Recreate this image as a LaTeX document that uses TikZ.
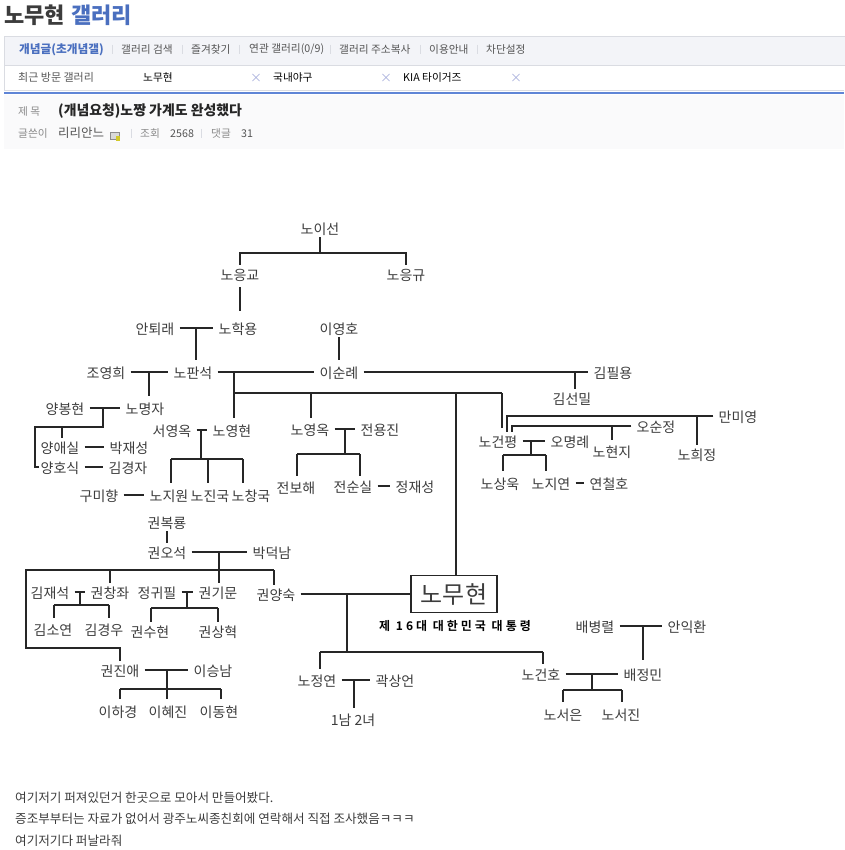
\documentclass[tikz,border=0pt]{standalone}
\usepackage{fontspec}
\setmainfont{Noto Sans CJK KR}
\newfontfamily\kr[BoldFont={Noto Sans CJK KR Bold}]{Noto Sans CJK KR}
\newfontfamily\krwide[LetterSpace=25,BoldFont={Noto Sans CJK KR Bold}]{Noto Sans CJK KR}
\definecolor{namegray}{HTML}{3C3C3C}
\definecolor{wiregray}{HTML}{262626}
\definecolor{gallblue}{HTML}{4A6FBF}
\definecolor{barline}{HTML}{DADCE2}
\definecolor{barfill}{HTML}{F3F4F8}
\definecolor{topline}{HTML}{5F85D6}
\definecolor{softgray}{HTML}{8A8A8A}
\definecolor{tabgray}{HTML}{555555}
\definecolor{panelgray}{HTML}{FAFAFB}
\definecolor{closemark}{HTML}{A9B0DC}
\begin{document}
\begin{tikzpicture}[x=1pt,y=-1pt,
	person/.style={font=\fontsize{14}{14}\selectfont,text=namegray,inner xsep=5pt,inner ysep=0pt,text height=13.4pt,text depth=1pt,minimum height=18pt},
	wire/.style={line width=1.4pt,color=wiregray},
	tab/.style={font=\fontsize{10.7}{11}\selectfont,text=tabgray,inner sep=0pt,anchor=west},
	closex/.style={font=\fontsize{12}{12}\selectfont,text=closemark,inner sep=0pt},
	sep/.style={line width=0.5pt,color=barline},
	note/.style={font=\fontsize{12.6}{13}\selectfont,text=namegray,inner sep=0pt,anchor=west}]
	\useasboundingbox (0,0) rectangle (844,850);

	\fill[panelgray] (4,95) rectangle (844,149);
	\filldraw[fill=barfill,draw=barline] (4,36) rectangle (850,65);
	\draw[barline] (4,65) -- (4,90) -- (844,90);
	\draw[topline,line width=1.2pt] (4,93) -- (844,93);

	\node [inner sep=0pt,anchor=west,font=\fontsize{22}{22}\bfseries,text=namegray] (gallname) at (4,15) {노무현};
	\node [inner sep=0pt,anchor=west,font=\fontsize{22}{22}\bfseries,text=gallblue] (galltitle) at (71,15) {갤러리};

	\node [tab,font=\fontsize{11.7}{12}\bfseries,text=gallblue] (tab1) at (19,49.5) {개념글(초개념갤)};
	\node [tab] (tab2) at (121,49.5) {갤러리 검색};
	\node [tab] (tab3) at (191,49.5) {즐겨찾기};
	\node [tab] (tab4) at (249,49.5) {연관 갤러리(0/9)};
	\node [tab] (tab5) at (339,49.5) {갤러리 주소복사};
	\node [tab] (tab6) at (429,49.5) {이용안내};
	\node [tab] (tab7) at (486,49.5) {차단설정};
	\draw[sep] (112,45) -- (112,54) (182,45) -- (182,54) (239,45) -- (239,54) (330,45) -- (330,54) (420,45) -- (420,54) (477,45) -- (477,54);

	\node [tab,font=\fontsize{11}{11}\selectfont] (recent) at (18,77.5) {최근 방문 갤러리};
	\node [tab,text=black] (rec1) at (143,77.5) {노무현};
	\node [closex] (x1) at (256,78) {×};
	\node [tab,text=black] (rec2) at (273,77.5) {국내야구};
	\node [closex] (x2) at (386,78) {×};
	\node [tab,text=black] (rec3) at (403,77.5) {KIA 타이거즈};
	\node [closex] (x3) at (516,78) {×};

	\node [tab,text=softgray] (subjlabel) at (18,111) {제 목};
	\node [tab,font=\fontsize{13.9}{14}\bfseries,text=black!85] (subject) at (58,111) {(개념요청)노짱 가계도 완성했다};
	\node [tab,text=softgray] (writerlabel) at (18,133.5) {글쓴이};
	\node [tab,font=\fontsize{12.5}{13}\selectfont] (writer) at (58,133) {리리안느};
	\filldraw[fill=black!15,draw=black!45] (110,132) rectangle (119,139);
	\fill[yellow!80!black] (116,136) rectangle (120,141);
	\draw[sep] (131,129) -- (131,138) (201,129) -- (201,138);
	\node [tab,text=softgray] (hitlabel) at (140,133.5) {조회};
	\node [tab] (hits) at (170,133.5) {2568};
	\node [tab,text=softgray] (replylabel) at (211,133.5) {댓글};
	\node [tab] (replies) at (241,133.5) {31};

	\node [person] (noiseon) at (320,228) {노이선};
	\node [person] (noeunggyo) at (240,274) {노응교};
	\node [person] (noeunggyu) at (406,274) {노응규};
	\node [person] (antoerae) at (155,328) {안퇴래};
	\node [person] (hakyong) at (238,328) {노학용};
	\node [person] (yeongho) at (339,328) {이영호};
	\node [person] (choyeonghui) at (106,372) {조영희};
	\node [person] (panseok) at (193,372) {노판석};
	\node [person] (sunrye) at (339,372) {이순례};
	\node [person] (pilyong) at (613,372) {김필용};
	\node [person] (seonmil) at (572,398) {김선밀};
	\node [person] (bonghyeon) at (65,408) {양봉현};
	\node [person] (myeongja) at (145,408) {노명자};
	\node [person] (aesil) at (60,447) {양애실};
	\node [person] (jaeseong) at (129,447) {박재성};
	\node [person] (hosik) at (60,467) {양호식};
	\node [person] (gyeongja) at (128,467) {김경자};
	\node [person] (yeongok) at (172,430) {서영옥};
	\node [person] (yeonghyeon) at (232,430) {노영현};
	\node [person] (gumihyang) at (99,495) {구미향};
	\node [person] (jiwon) at (169,495) {노지원};
	\node [person] (jinguk) at (210,495) {노진국};
	\node [person] (changguk) at (251,495) {노창국};
	\node [person] (noyeongok) at (310,429) {노영옥};
	\node [person] (yongjin) at (380,429) {전용진};
	\node [person] (bohae) at (296,487) {전보해};
	\node [person] (sunsil) at (353,486) {전순실};
	\node [person] (jaeseong2) at (415,486) {정재성};
	\node [person] (geonpyeong) at (498,441) {노건평};
	\node [person] (myeongrye) at (570,441) {오명례};
	\node [person] (sanguk) at (500,483) {노상욱};
	\node [person] (jiyeon) at (551,483) {노지연};
	\node [person] (cheolho) at (609,483) {연철호};
	\node [person] (miyeong) at (738,416) {만미영};
	\node [person] (sunjeong) at (656,426) {오순정};
	\node [person] (hyeonji) at (612,451) {노현지};
	\node [person] (huijeong) at (697,454) {노희정};

	\node [person] (bokryong) at (167,522) {권복룡};
	\node [person] (oseok) at (167,552) {권오석};
	\node [person] (deoknam) at (272,552) {박덕남};
	\node [person] (jaeseok) at (50,592) {김재석};
	\node [person] (changjwa) at (110,592) {권창좌};
	\node [person] (gwipil) at (157,592) {정귀필};
	\node [person] (gimun) at (218,592) {권기문};
	\node [person] (yangsuk) at (276,594) {권양숙};
	\node [person] (soyeon) at (53,629) {김소연};
	\node [person] (gyeongu) at (104,629) {김경우};
	\node [person] (suhyeon) at (150,631) {권수현};
	\node [person] (sanghyeok) at (218,631) {권상혁};
	\node [person] (jinae) at (120,670) {권진애};
	\node [person] (seungnam) at (213,670) {이승남};
	\node [person] (hagyeong) at (118,711) {이하경};
	\node [person] (hyejin) at (168,711) {이혜진};
	\node [person] (donghyeon) at (219,711) {이동현};

	\node [draw=wiregray,line width=1.4pt,minimum width=86pt,minimum height=37pt,inner sep=0pt,font=\fontsize{24}{24}\selectfont,text=namegray] (nomuhyeon) at (454,594) {노무현};
	\node [inner sep=0pt,font=\krwide\fontsize{12}{12}\bfseries,text=black] (president) at (455,626) {제 16대 대한민국 대통령};
	\node [person] (jeongyeon) at (317,680) {노정연};
	\node [person] (sangeon) at (395,680) {곽상언};
	\node [person] (children) at (353,719) {1남 2녀};
	\node [person] (geonho) at (541,674) {노건호};
	\node [person] (jeongmin) at (643,674) {배정민};
	\node [person] (seoeun) at (563,714) {노서은};
	\node [person] (seojin) at (621,714) {노서진};
	\node [person] (byeongryeol) at (595,626) {배병렬};
	\node [person] (ikhwan) at (687,626) {안익환};

	\coordinate (bus1) at (320,253);
	\draw[wire] (noiseon) -- (bus1);
	\draw[wire] (noeunggyo.north) |- (bus1) -| (noeunggyu.north);
	\draw[wire,shorten <=4pt,shorten >=8pt] (noeunggyo.south) -- (noeunggyo.south |- hakyong.north);

	\coordinate (drop1) at (196,328);
	\draw[wire] (antoerae.east) -- (hakyong.west);
	\draw[wire,shorten >=3pt] (drop1) -- (drop1 |- panseok.north);
	\draw[wire,shorten >=3pt] (yeongho) -- (sunrye);

	\coordinate (drop2) at (149,372);
	\coordinate (drop3) at (234,372);
	\coordinate (bus2) at (234,393);
	\coordinate (bus2a) at (311,393);
	\coordinate (bus2b) at (456,393);
	\coordinate (bus2c) at (502,393);
	\coordinate (drop4) at (575,372);
	\draw[wire] (choyeonghui.east) -- (panseok.west);
	\draw[wire] (panseok.east) -- (sunrye.west);
	\draw[wire] (sunrye.east) -- (pilyong.west);
	\draw[wire] (drop4) -- (drop4 |- seonmil.north);
	\draw[wire,shorten >=3pt] (drop2) -- (drop2 |- myeongja.north);
	\draw[wire,shorten >=3pt] (drop3) -- (drop3 |- yeonghyeon.north);
	\draw[wire] (bus2) -- (bus2c);
	\draw[wire,shorten >=4pt] (bus2c) -- (bus2c |- geonpyeong.north);
	\draw[wire] (bus2b) -- (bus2b |- nomuhyeon.north);
	\draw[wire,shorten >=2pt] (bus2a) -- (bus2a |- noyeongok.north);

	\coordinate (drop5) at (103,408);
	\coordinate (bus3) at (103,427);
	\coordinate (bus3a) at (62,427);
	\coordinate (bus3b) at (35,427);
	\draw[wire] (bonghyeon.east) -- (myeongja.west);
	\draw[wire] (drop5) -- (bus3) -- (bus3b) |- ([xshift=4pt]hosik.west);
	\draw[wire] (bus3a) -- (bus3a |- aesil.north);
	\draw[wire] (aesil.east) -- (jaeseong.west);
	\draw[wire] (hosik.east) -- (gyeongja.west);

	\coordinate (drop6) at (201,430);
	\coordinate (bus4) at (201,459);
	\coordinate (bus4a) at (171,459);
	\coordinate (bus4b) at (208,459);
	\coordinate (bus4c) at (243,459);
	\draw[wire] (yeongok.east) -- (yeonghyeon.west);
	\draw[wire] (drop6) -- (bus4);
	\draw[wire] (bus4a) -- (bus4c);
	\draw[wire,shorten >=3pt] (bus4a) -- (bus4a |- jiwon.north);
	\draw[wire,shorten >=3pt] (bus4b) -- (bus4b |- jinguk.north);
	\draw[wire,shorten >=3pt] (bus4c) -- (bus4c |- changguk.north);
	\draw[wire] (gumihyang.east) -- (jiwon.west);

	\coordinate (drop7) at (345,429);
	\coordinate (bus5) at (345,454);
	\coordinate (bus5a) at (297,454);
	\coordinate (bus5b) at (360,454);
	\draw[wire] (noyeongok.east) -- (yongjin.west);
	\draw[wire] (drop7) -- (bus5);
	\draw[wire] (bus5a) -- (bus5b);
	\draw[wire,shorten >=2pt] (bus5a) -- (bus5a |- bohae.north);
	\draw[wire,shorten >=1pt] (bus5b) -- (bus5b |- sunsil.north);
	\draw[wire] (sunsil.east) -- (jaeseong2.west);

	\coordinate (drop8) at (531,441);
	\coordinate (bus6) at (531,455);
	\coordinate (bus6a) at (503,455);
	\coordinate (bus6b) at (546,455);
	\draw[wire] (geonpyeong.east) -- (myeongrye.west);
	\draw[wire] (drop8) -- (bus6);
	\draw[wire] (bus6a) -- (bus6b);
	\draw[wire,shorten >=3pt] (bus6a) -- (bus6a |- sanguk.north);
	\draw[wire,shorten >=3pt] (bus6b) -- (bus6b |- jiyeon.north);
	\draw[wire] (jiyeon.east) -- (cheolho.west);

	\coordinate (drop9) at (697,416);
	\coordinate (drop10) at (612,426);
	\draw[wire] (miyeong.west) -| ([xshift=9pt]geonpyeong.north);
	\draw[wire] (sunjeong.west) -| ([xshift=14pt]geonpyeong.north);
	\draw[wire] (drop9) -- (drop9 |- huijeong.north);
	\draw[wire,shorten >=2pt] (drop10) -- (drop10 |- hyeonji.north);

	\coordinate (drop11) at (219,552);
	\coordinate (bus7a) at (26,570);
	\coordinate (bus7b) at (110,570);
	\coordinate (bus7c) at (219,570);
	\coordinate (bus7d) at (274,570);
	\coordinate (bus7e) at (26,648);
	\draw[wire] (bokryong) -- (oseok);
	\draw[wire] (oseok.east) -- (deoknam.west);
	\draw[wire] (drop11) -- (drop11 |- gimun.north);
	\draw[wire] (bus7d) -- (bus7a) -- (bus7e) -| (jinae.north);
	\draw[wire] (bus7b) -- (bus7b |- changjwa.north);
	\draw[wire] (bus7d) -- (bus7d |- yangsuk.north);

	\coordinate (drop12) at (80,592);
	\coordinate (bus8) at (80,605);
	\coordinate (bus8a) at (54,605);
	\coordinate (bus8b) at (109,605);
	\draw[wire] (jaeseok.east) -- (changjwa.west);
	\draw[wire] (drop12) -- (bus8);
	\draw[wire] (bus8a) -- (bus8b);
	\draw[wire,shorten >=2pt] (bus8a) -- (bus8a |- soyeon.north);
	\draw[wire,shorten >=2pt] (bus8b) -- (bus8b |- gyeongu.north);

	\coordinate (drop13) at (187,592);
	\coordinate (bus9) at (187,608);
	\coordinate (bus9a) at (151,608);
	\coordinate (bus9b) at (218,608);
	\draw[wire] (gwipil.east) -- (gimun.west);
	\draw[wire] (drop13) -- (bus9);
	\draw[wire] (bus9a) -- (bus9b);
	\draw[wire] (bus9a) -- (bus9a |- suhyeon.north);
	\draw[wire] (bus9b) -- (bus9b |- sanghyeok.north);

	\coordinate (drop14) at (167,670);
	\coordinate (bus10) at (167,689);
	\coordinate (bus10a) at (120,689);
	\coordinate (bus10b) at (221,689);
	\draw[wire] (jinae.east) -- (seungnam.west);
	\draw[wire] (drop14) -- (bus10);
	\draw[wire] (bus10a) -- (bus10b);
	\draw[wire,shorten >=3pt] (bus10a) -- (bus10a |- hagyeong.north);
	\draw[wire,shorten >=3pt] (bus10) -- (bus10 |- hyejin.north);
	\draw[wire,shorten >=3pt] (bus10b) -- (bus10b |- donghyeon.north);

	\coordinate (drop15) at (347,594);
	\coordinate (bus11) at (347,652);
	\coordinate (bus11a) at (320,652);
	\coordinate (bus11b) at (543,652);
	\draw[wire] (yangsuk.east) -- (nomuhyeon.west);
	\draw[wire] (drop15) -- (bus11);
	\draw[wire] (bus11a) -- (bus11b);
	\draw[wire,shorten >=2pt] (bus11a) -- (bus11a |- jeongyeon.north);
	\draw[wire,shorten >=1pt] (bus11b) -- (bus11b |- geonho.north);

	\coordinate (drop16) at (354,680);
	\draw[wire] (jeongyeon.east) -- (sangeon.west);
	\draw[wire,shorten >=2pt] (drop16) -- (drop16 |- children.north);

	\coordinate (drop17) at (592,674);
	\coordinate (bus12) at (592,690);
	\coordinate (bus12a) at (563,690);
	\coordinate (bus12b) at (622,690);
	\draw[wire] (geonho.east) -- (jeongmin.west);
	\draw[wire] (drop17) -- (bus12);
	\draw[wire] (bus12a) -- (bus12b);
	\draw[wire,shorten >=3pt] (bus12a) -- (bus12a |- seoeun.north);
	\draw[wire,shorten >=3pt] (bus12b) -- (bus12b |- seojin.north);

	\coordinate (drop18) at (643,626);
	\draw[wire] (byeongryeol.east) -- (ikhwan.west);
	\draw[wire,shorten >=5pt] (drop18) -- (drop18 |- jeongmin.north);

	\node [note] (note1) at (15,798) {여기저기 퍼져있던거 한곳으로 모아서 만들어봤다.};
	\node [note] (note2) at (15,819) {증조부부터는 자료가 없어서 광주노씨종친회에 연락해서 직접 조사했음ㅋㅋㅋ};
	\node [note] (note3) at (15,841) {여기저기다 퍼날라줘};
\end{tikzpicture}
\end{document}
